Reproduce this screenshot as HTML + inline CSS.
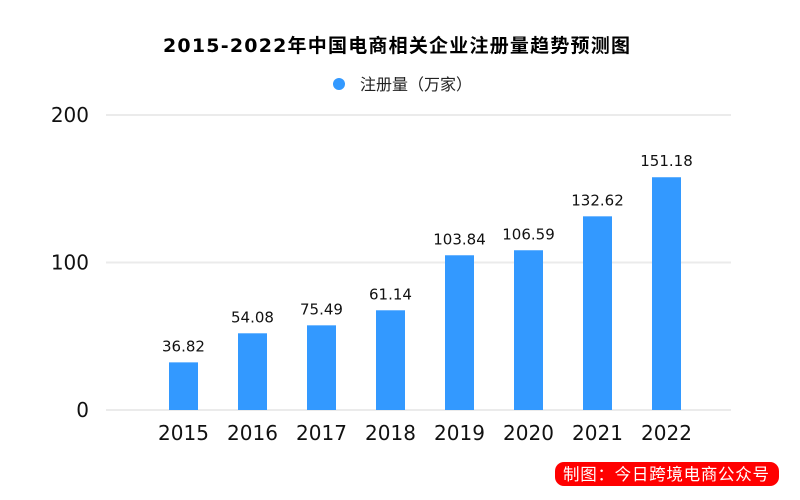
<!DOCTYPE html>
<html><head><meta charset="utf-8"><style>
body{margin:0;background:#fff;width:800px;height:500px;overflow:hidden;font-family:"DejaVu Sans","Noto Sans CJK SC",sans-serif}
text{font-family:"DejaVu Sans","Noto Sans CJK SC",sans-serif}
</style></head><body>
<svg width="800" height="500" style="position:absolute;left:0;top:0">
<text x="163" y="52" textLength="467" lengthAdjust="spacing" font-size="19" font-weight="bold" fill="#000">2015-2022年中国电商相关企业注册量趋势预测图</text>
<g>
<circle cx="339" cy="84" r="6" fill="#3399ff"/>
<text x="360" y="90" textLength="112" lengthAdjust="spacing" font-size="16" fill="#222">注册量（万家）</text>
</g>
<g id="grid"></g><g id="bars"></g><g id="labels"></g>
<g>
<rect x="555" y="462" width="224" height="24" rx="9" fill="#ff0000"/>
<text x="563" y="480" textLength="206" lengthAdjust="spacing" font-size="16.5" fill="#fff">制图：今日跨境电商公众号</text>
</g>
</svg>
<script>
const categories=["2015","2016","2017","2018","2019","2020","2021","2022"];
const barValues=[32.3,52,57.4,67.6,104.9,108.3,131.3,157.8];
const valueLabels=["36.82","54.08","75.49","61.14","103.84","106.59","132.62","151.18"];
const yTicks=[0,100,200];
const ns="http://www.w3.org/2000/svg";
const y=v=>410-v*1.475;
const x=i=>183.5+i*69;
function mk(t,a,p){const e=document.createElementNS(ns,t);for(const k in a)e.setAttribute(k,a[k]);p.appendChild(e);return e;}
const g=document.getElementById('grid'),b=document.getElementById('bars'),l=document.getElementById('labels');
yTicks.forEach(t=>{
 const ln=mk('line',{x1:106,x2:731,y1:y(t),y2:y(t),stroke:'#ebebeb','stroke-width':2},g);
 
 
 const tx=mk('text',{x:89,y:y(t)+7,'text-anchor':'end','font-size':20,fill:'#111'},g);
 tx.textContent=t;
 
 
});
categories.forEach((c,i)=>{
 const r=mk('rect',{x:x(i)-14.5,y:y(barValues[i]),width:29,height:410-y(barValues[i]),fill:'#3399ff'},b);
 
 
 const v=mk('text',{x:x(i),y:y(barValues[i])-11,'text-anchor':'middle','font-size':15,fill:'#111'},l);
 v.textContent=valueLabels[i];
 
 
 const xl=mk('text',{x:x(i),y:440,'text-anchor':'middle','font-size':20,fill:'#111'},l);
 xl.textContent=c;
 
 
});
</script>
</body></html>
